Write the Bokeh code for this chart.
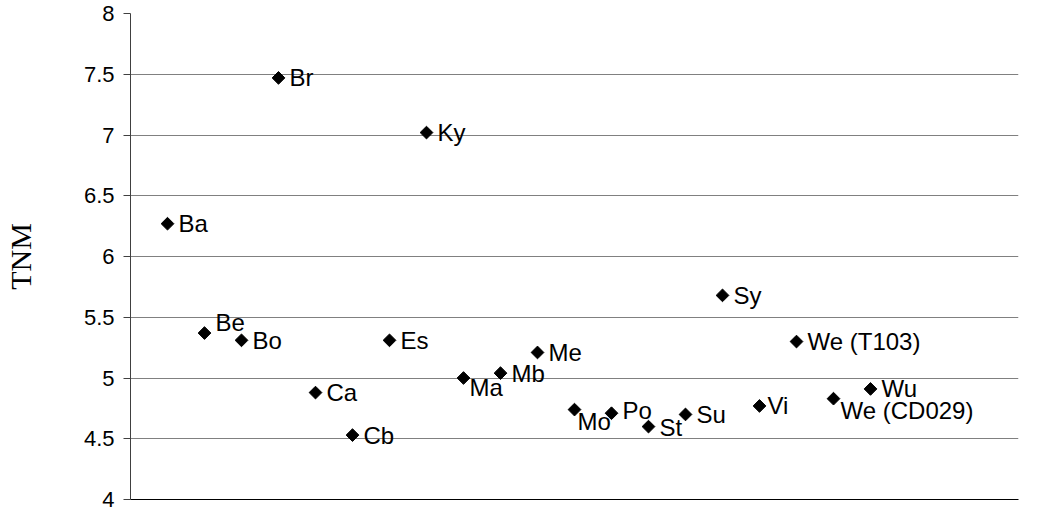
import numpy as np
from bokeh.plotting import figure
from bokeh.models import ColumnDataSource, FixedTicker, Range1d
from bokeh.core.properties import value
from bokeh.embed import file_html
from bokeh.resources import INLINE

# ---- data ----
names = ["Ba", "Be", "Bo", "Br", "Ca", "Cb", "Es", "Ky", "Ma", "Mb",
         "Me", "Mo", "Po", "St", "Su", "Sy", "Vi", "We (T103)", "We (CD029)", "Wu"]
tnm = [6.27, 5.37, 5.31, 7.47, 4.88, 4.53, 5.31, 7.02, 5.00, 5.04,
       5.21, 4.74, 4.71, 4.60, 4.70, 5.68, 4.77, 5.30, 4.83, 4.91]
positions = list(range(1, len(names) + 1))
y_ticks = [4, 4.5, 5, 5.5, 6, 6.5, 7, 7.5, 8]
y_tick_labels = ["4", "4.5", "5", "5.5", "6", "6.5", "7", "7.5", "8"]

# ---- label placement (style only) ----
label_dx = [11, 11, 11, 11, 11, 11, 11, 11, 6, 11,
            11, 3, 11, 11, 11, 11, 8, 11, 7, 11]
label_dy = [0, -11, 0, 0, 0, 0, 0, 0, 9, 0,
            0, 12, -3, 1, 0, 0, 0, 0, 12, 0]

src = ColumnDataSource(dict(x=positions, y=tnm, name=names, dx=label_dx, dy=label_dy))

p = figure(width=1038, height=512, output_backend="svg", toolbar_location=None,
           x_range=Range1d(0, 24), y_range=Range1d(4, 8),
           min_border_left=128, min_border_right=20, min_border_top=13, min_border_bottom=13)
p.outline_line_color = None
p.background_fill_color = "white"
p.border_fill_color = "white"

xax = p.xaxis[0]
xax.ticker = FixedTicker(ticks=[12])
xax.axis_line_color = "black"
xax.axis_line_width = 1
xax.major_tick_line_color = None
xax.minor_tick_line_color = None
xax.major_label_text_color = None
xax.major_label_text_font_size = "1px"
xax.major_label_standoff = 0
xax.major_tick_out = 0
xax.major_tick_in = 0
p.xgrid.visible = False

yax = p.yaxis[0]
yax.ticker = FixedTicker(ticks=y_ticks)
yax.major_label_overrides = {t: l for t, l in zip(y_ticks, y_tick_labels)}
yax.minor_tick_line_color = None
yax.major_tick_in = 0
yax.major_tick_out = 7
yax.major_tick_line_color = "#404040"
yax.axis_line_color = "#404040"
yax.major_label_text_font = "Liberation Sans"
yax.major_label_text_font_size = "22px"
yax.major_label_text_color = "black"
yax.major_label_standoff = 9
yax.axis_label = "TNM"
yax.axis_label_text_font = "Liberation Serif"
yax.axis_label_text_font_style = "normal"
yax.axis_label_text_font_size = "30px"
yax.axis_label_text_color = "black"
yax.axis_label_standoff = 44

p.ygrid.ticker = FixedTicker(ticks=y_ticks)
p.ygrid.grid_line_color = "#808080"
p.ygrid.grid_line_width = 1

p.scatter("x", "y", source=src, marker="square", angle=np.pi / 4, size=9,
          fill_color="black", line_color="black")
p.text("x", "y", text="name", source=src, x_offset="dx", y_offset="dy",
       text_font=value("Liberation Sans"), text_font_size="24px",
       text_align="left", text_baseline="middle", text_color="black")

open("out.html", "w").write(file_html(p, INLINE))
